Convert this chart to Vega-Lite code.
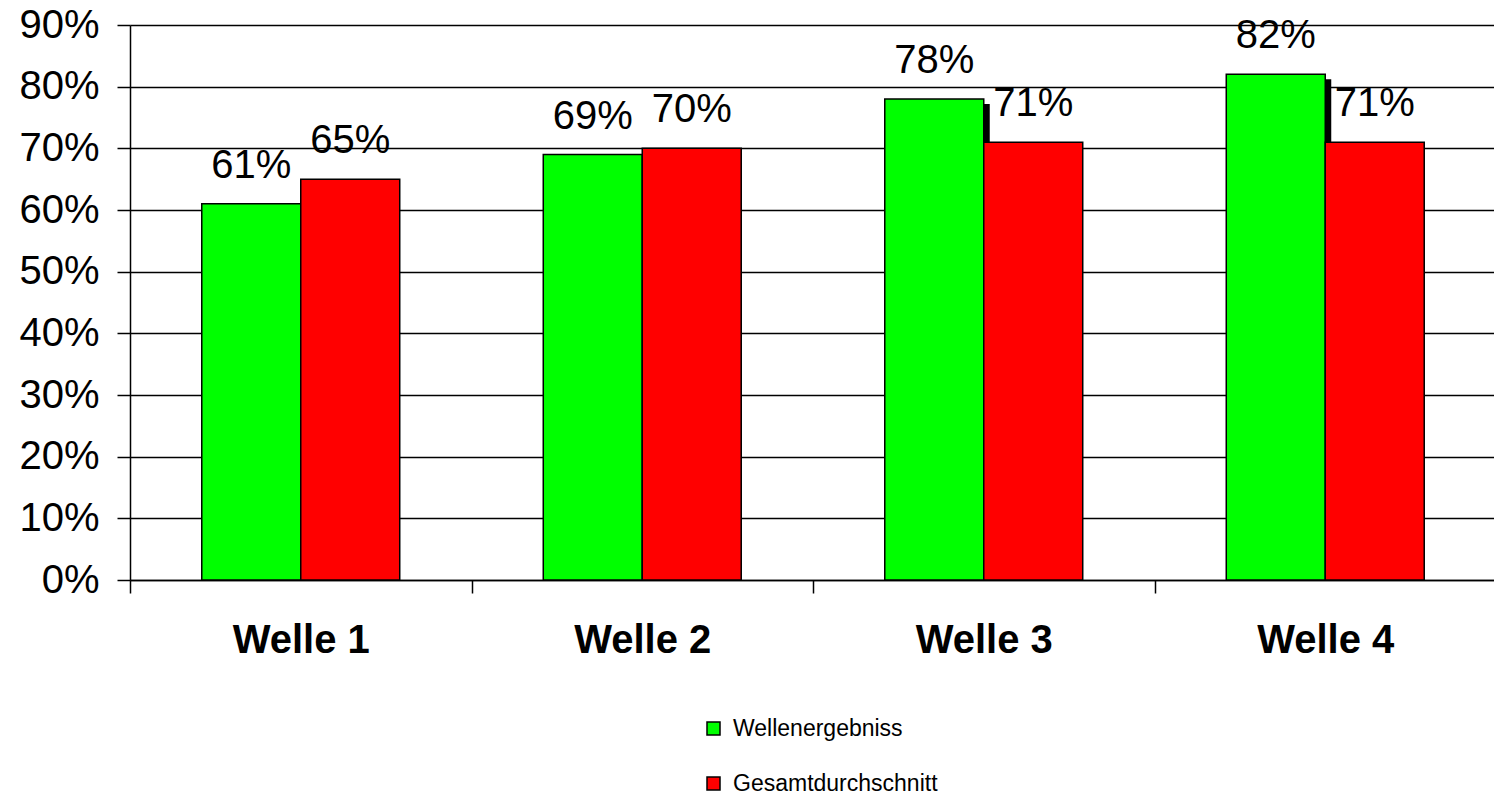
{
  "$schema": "https://vega.github.io/schema/vega-lite/v6.json",
  "autosize": "none",
  "padding": {"left": 130, "top": 25, "right": 0, "bottom": 214},
  "width": 1366,
  "height": 555,
  "background": "white",
  "config": {
    "font": "Liberation Sans",
    "view": {"stroke": null}
  },
  "data": {
    "values": [
      {"welle": "Welle 1", "serie": "Wellenergebniss", "wert": 0.61},
      {"welle": "Welle 1", "serie": "Gesamtdurchschnitt", "wert": 0.65},
      {"welle": "Welle 2", "serie": "Wellenergebniss", "wert": 0.69},
      {"welle": "Welle 2", "serie": "Gesamtdurchschnitt", "wert": 0.70},
      {"welle": "Welle 3", "serie": "Wellenergebniss", "wert": 0.78},
      {"welle": "Welle 3", "serie": "Gesamtdurchschnitt", "wert": 0.71},
      {"welle": "Welle 4", "serie": "Wellenergebniss", "wert": 0.82},
      {"welle": "Welle 4", "serie": "Gesamtdurchschnitt", "wert": 0.71}
    ]
  },
  "encoding": {
    "x": {
      "field": "welle",
      "type": "nominal",
      "title": null,
      "scale": {"paddingInner": 0, "paddingOuter": 0},
      "axis": {
        "labelAngle": 0,
        "labelFont": "Liberation Sans",
        "labelFontSize": 40,
        "labelFontWeight": "bold",
        "labelColor": "black",
        "labelPadding": 27,
        "tickBand": "extent",
        "tickSize": 13,
        "tickColor": "black",
        "tickWidth": 1.5,
        "domainColor": "black",
        "domainWidth": 1.5,
        "grid": false
      }
    },
    "y": {
      "field": "wert",
      "type": "quantitative",
      "title": null,
      "scale": {"domain": [0, 0.9], "nice": false},
      "axis": {
        "values": [0, 0.1, 0.2, 0.3, 0.4, 0.5, 0.6, 0.7, 0.8, 0.9],
        "format": ".0%",
        "labelFont": "Liberation Sans",
        "labelFontSize": 40,
        "labelColor": "black",
        "labelPadding": 18,
        "tickSize": 13,
        "tickColor": "black",
        "tickWidth": 1.5,
        "domainColor": "black",
        "domainWidth": 1.5,
        "grid": true,
        "gridColor": "black",
        "gridWidth": 1.5,
        "gridOpacity": 1
      }
    }
  },
  "layer": [
    {
      "transform": [{"filter": "datum.serie === 'Wellenergebniss'"}],
      "mark": {"type": "rule", "color": "black", "strokeWidth": 6, "xOffset": 3, "yOffset": 5},
      "encoding": {
        "y2": {"datum": 0}
      }
    },
    {
      "mark": {"type": "bar", "stroke": "black", "strokeWidth": 1.5},
      "encoding": {
        "xOffset": {
          "field": "serie",
          "type": "nominal",
          "sort": ["Wellenergebniss", "Gesamtdurchschnitt"],
          "scale": {"paddingInner": 0, "paddingOuter": 0.725}
        },
        "color": {
          "field": "serie",
          "type": "nominal",
          "sort": ["Wellenergebniss", "Gesamtdurchschnitt"],
          "scale": {
            "domain": ["Wellenergebniss", "Gesamtdurchschnitt"],
            "range": ["#00FF00", "#FF0000"]
          },
          "legend": {
            "title": null,
            "orient": "none",
            "legendX": 572,
            "legendY": 692,
            "direction": "vertical",
            "symbolType": "square",
            "symbolSize": 169,
            "symbolStrokeColor": "black",
            "symbolStrokeWidth": 1.5,
            "symbolOpacity": 1,
            "labelFont": "Liberation Sans",
            "labelFontSize": 23,
            "labelLimit": 0,
            "labelColor": "black",
            "labelOffset": 8,
            "rowPadding": 31
          }
        }
      }
    },
    {
      "mark": {"type": "text", "fontSize": 40, "font": "Liberation Sans", "color": "black", "baseline": "alphabetic", "dy": -26},
      "encoding": {
        "xOffset": {
          "field": "serie",
          "type": "nominal",
          "sort": ["Wellenergebniss", "Gesamtdurchschnitt"],
          "scale": {"paddingInner": 0, "paddingOuter": 0.725}
        },
        "text": {"field": "wert", "type": "quantitative", "format": ".0%"}
      }
    }
  ]
}
